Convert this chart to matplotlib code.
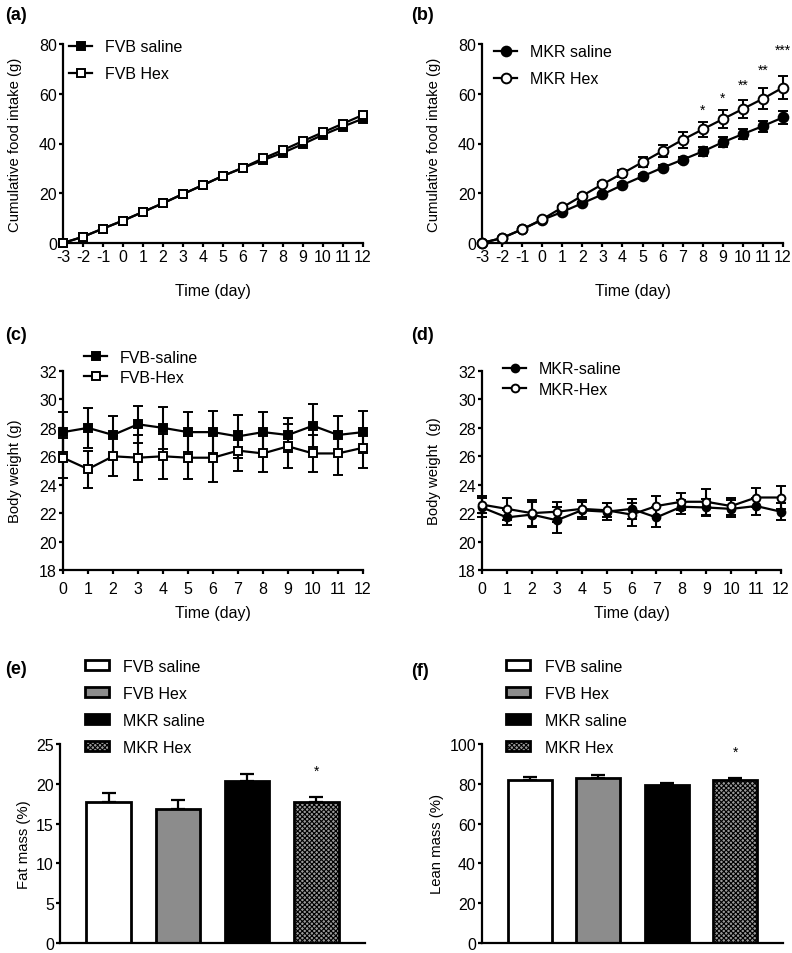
import matplotlib
matplotlib.use("Agg")
import matplotlib.pyplot as plt
import numpy as np

plt.rcParams['font.family'] = ['Liberation Sans', 'DejaVu Sans']
plt.rcParams['hatch.linewidth'] = 0.8
plt.rcParams['axes.unicode_minus'] = False

# ---------------- data ----------------
days_a = [-3, -2, -1, 0, 1, 2, 3, 4, 5, 6, 7, 8, 9, 10, 11, 12]
fvb_saline_food = [0, 2.5, 5.8, 9.0, 12.5, 16.0, 19.7, 23.3, 27.0, 30.2, 33.3, 36.3, 39.8, 43.5, 46.8, 50.0]
fvb_saline_food_err = [0, 0.2, 0.3, 0.3, 0.4, 0.4, 0.5, 0.5, 0.6, 0.6, 0.7, 0.7, 0.8, 0.8, 0.9, 0.9]
fvb_hex_food = [0, 2.5, 5.8, 9.0, 12.5, 16.0, 19.7, 23.3, 27.0, 30.3, 34.0, 37.4, 41.0, 44.5, 48.0, 51.5]
fvb_hex_food_err = [0, 0.2, 0.3, 0.3, 0.4, 0.4, 0.5, 0.5, 0.6, 0.6, 0.7, 0.7, 0.8, 0.8, 0.9, 0.9]

mkr_saline_food = [0, 2.0, 5.5, 9.3, 12.5, 16.0, 19.5, 23.3, 26.8, 30.3, 33.5, 36.8, 40.5, 43.8, 47.0, 50.5]
mkr_saline_food_err = [0, 0.2, 0.3, 0.4, 0.5, 0.6, 0.7, 0.8, 0.9, 1.0, 1.2, 1.8, 2.0, 2.0, 2.2, 2.5]
mkr_hex_food = [0, 2.0, 5.5, 9.5, 14.3, 19.0, 23.6, 28.0, 32.5, 37.0, 41.5, 45.7, 49.8, 53.9, 58.0, 62.5]
mkr_hex_food_err = [0, 0.2, 0.3, 0.4, 0.6, 0.8, 1.0, 1.5, 2.0, 2.5, 3.2, 3.0, 3.5, 3.6, 4.2, 4.8]
sig_days = [8, 9, 10, 11, 12]
sig_labels = ['*', '*', '**', '**', '***']
sig_y = [53.5, 58.5, 63.5, 69.5, 77.5]

days_c = [0, 1, 2, 3, 4, 5, 6, 7, 8, 9, 10, 11, 12]
fvb_saline_bw = [27.7, 28.0, 27.5, 28.25, 28.0, 27.7, 27.7, 27.4, 27.7, 27.5, 28.15, 27.5, 27.7]
fvb_saline_bw_err = [1.4, 1.4, 1.3, 1.3, 1.5, 1.4, 1.5, 1.5, 1.4, 1.2, 1.5, 1.3, 1.5]
fvb_hex_bw = [25.9, 25.1, 26.0, 25.9, 26.0, 25.9, 25.9, 26.4, 26.2, 26.7, 26.2, 26.2, 26.6]
fvb_hex_bw_err = [1.4, 1.3, 1.4, 1.6, 1.6, 1.5, 1.7, 1.4, 1.3, 1.55, 1.3, 1.5, 1.4]

mkr_saline_bw = [22.4, 21.7, 21.9, 21.5, 22.2, 22.1, 22.3, 21.7, 22.45, 22.4, 22.3, 22.5, 22.1]
mkr_saline_bw_err = [0.7, 0.5, 0.9, 0.9, 0.6, 0.6, 0.7, 0.7, 0.5, 0.6, 0.6, 0.6, 0.6]
mkr_hex_bw = [22.6, 22.3, 22.0, 22.1, 22.3, 22.2, 21.9, 22.5, 22.8, 22.8, 22.5, 23.1, 23.1]
mkr_hex_bw_err = [0.6, 0.8, 0.9, 0.7, 0.6, 0.5, 0.8, 0.7, 0.6, 0.9, 0.6, 0.7, 0.8]

groups = ['FVB saline', 'FVB Hex', 'MKR saline', 'MKR Hex']
fat_mass = [17.75, 16.85, 20.35, 17.75]
fat_mass_err = [1.05, 1.1, 0.85, 0.65]
lean_mass = [81.9, 83.0, 79.4, 81.9]
lean_mass_err = [1.4, 1.3, 1.2, 1.0]
bar_sig = ['', '', '', '*']

# ---------------- figure ----------------
W, H = 792, 954
fig = plt.figure(figsize=(W / 100, H / 100), dpi=100)


def axes_px(l, r, t, b):
    return fig.add_axes([l / W, 1 - b / H, (r - l) / W, (b - t) / H])


TICK_FS = 11.5
YLAB_FS = 10.7
XLAB_FS = 11.5
LEG_FS = 11.5


def style(ax, bar=False, xpad=1.0):
    for s in ['top', 'right']:
        ax.spines[s].set_visible(False)
    for s in ['left', 'bottom']:
        ax.spines[s].set_linewidth(1.6)
    ax.tick_params(axis='both', direction='out', width=1.6, length=3.2, labelsize=TICK_FS)
    ax.tick_params(axis='y', pad=1.2)
    ax.tick_params(axis='x', pad=xpad)
    if bar:
        ax.tick_params(axis='x', length=0, labelbottom=False)


def line_series(ax, x, y, e, marker, filled, label, ms):
    ax.errorbar(x, y, yerr=e, color='black', lw=1.6, elinewidth=1.5, capsize=3.5, capthick=1.5,
                marker=marker, ms=ms, mfc='black' if filled else 'white', mec='black', mew=1.4,
                label=label, clip_on=False, zorder=3)


def line_legend(ax, anchor, spacing):
    h, l = ax.get_legend_handles_labels()
    h = [hh[0] for hh in h]
    ax.legend(h, l, loc='upper left', bbox_to_anchor=anchor, frameon=False, fontsize=LEG_FS,
              handlelength=1.4, handletextpad=0.8, labelspacing=spacing, borderaxespad=0)


# (a)
ax = axes_px(63, 363, 45, 244)
line_series(ax, days_a, fvb_saline_food, fvb_saline_food_err, 's', True, 'FVB saline', 6.2)
line_series(ax, days_a, fvb_hex_food, fvb_hex_food_err, 's', False, 'FVB Hex', 6.2)
ax.set_xlim(-3, 12)
ax.set_ylim(0, 80)
ax.set_xticks(days_a)
ax.set_yticks([0, 20, 40, 60, 80])
style(ax)
ax.set_xlabel('Time (day)', fontsize=XLAB_FS, labelpad=14)
ax.set_ylabel('Cumulative food intake (g)', fontsize=YLAB_FS, labelpad=12)
line_legend(ax, (0.0, 1.055), 0.75)
fig.text(5 / W, 1 - 15 / H, '(a)', fontsize=13, fontweight='bold', va='center', ha='left')

# (b)
ax = axes_px(482, 783, 45, 244)
line_series(ax, days_a, mkr_saline_food, mkr_saline_food_err, 'o', True, 'MKR saline', 7)
line_series(ax, days_a, mkr_hex_food, mkr_hex_food_err, 'o', False, 'MKR Hex', 7)
ax.set_xlim(-3, 12)
ax.set_ylim(0, 80)
ax.set_xticks(days_a)
ax.set_yticks([0, 20, 40, 60, 80])
style(ax)
for d, s, yy in zip(sig_days, sig_labels, sig_y):
    ax.text(d, yy, s, ha='center', va='center', fontsize=10, clip_on=False)
ax.set_xlabel('Time (day)', fontsize=XLAB_FS, labelpad=14)
ax.set_ylabel('Cumulative food intake (g)', fontsize=YLAB_FS, labelpad=12)
line_legend(ax, (0.02, 1.03), 0.75)
fig.text(411 / W, 1 - 15 / H, '(b)', fontsize=13, fontweight='bold', va='center', ha='left')

# (c)
ax = axes_px(63, 363, 372, 571)
line_series(ax, days_c, fvb_saline_bw, fvb_saline_bw_err, 's', True, 'FVB-saline', 5.6)
line_series(ax, days_c, fvb_hex_bw, fvb_hex_bw_err, 's', False, 'FVB-Hex', 5.6)
ax.set_xlim(0, 12)
ax.set_ylim(18, 32)
ax.set_xticks(days_c)
ax.set_yticks([18, 20, 22, 24, 26, 28, 30, 32])
style(ax, xpad=5)
ax.set_xlabel('Time (day)', fontsize=XLAB_FS, labelpad=6)
ax.set_ylabel('Body weight (g)', fontsize=YLAB_FS, labelpad=12)
line_legend(ax, (0.05, 1.14), 0.32)
fig.text(5 / W, 1 - 336 / H, '(c)', fontsize=13, fontweight='bold', va='center', ha='left')

# (d)
ax = axes_px(482, 781, 372, 571)
line_series(ax, days_c, mkr_saline_bw, mkr_saline_bw_err, 'o', True, 'MKR-saline', 5.6)
line_series(ax, days_c, mkr_hex_bw, mkr_hex_bw_err, 'o', False, 'MKR-Hex', 5.6)
ax.set_xlim(0, 12)
ax.set_ylim(18, 32)
ax.set_xticks(days_c)
ax.set_yticks([18, 20, 22, 24, 26, 28, 30, 32])
style(ax, xpad=5)
ax.set_xlabel('Time (day)', fontsize=XLAB_FS, labelpad=6)
ax.set_ylabel('Body weight  (g)', fontsize=YLAB_FS, labelpad=12)
line_legend(ax, (0.05, 1.08), 0.32)
fig.text(411 / W, 1 - 336 / H, '(d)', fontsize=13, fontweight='bold', va='center', ha='left')

# bars
bar_face = ['white', '#8c8c8c', 'black', '#9a9a9a']
bar_hatch = [None, None, None, 'xxxxxxx']


def bar_panel(ax, vals, errs, ylim, yticks, ylabel):
    x = np.arange(len(groups))
    for i in range(len(groups)):
        ax.bar(x[i], vals[i], width=0.64, color=bar_face[i], edgecolor='black', linewidth=2.0,
               hatch=bar_hatch[i], label=groups[i], zorder=2)
        ax.errorbar(x[i], vals[i], yerr=[[0], [errs[i]]], color='black', elinewidth=1.6,
                    capsize=5, capthick=1.6, zorder=1)
        if bar_sig[i]:
            ax.text(x[i], vals[i] + errs[i] + (ylim[1] - ylim[0]) * 0.13, bar_sig[i], ha='center',
                    va='center', fontsize=10)
    ax.set_xlim(-0.7, 3.7)
    ax.set_ylim(*ylim)
    ax.set_yticks(yticks)
    style(ax, bar=True)
    ax.set_ylabel(ylabel, fontsize=YLAB_FS, labelpad=4)
    ax.legend(loc='lower left', bbox_to_anchor=(0.06, 0.915), frameon=False, fontsize=LEG_FS,
              handlelength=1.5, handleheight=0.6, handletextpad=0.9, labelspacing=0.75, borderaxespad=0)


ax = axes_px(60, 365, 745, 944)
bar_panel(ax, fat_mass, fat_mass_err, (0, 25), [0, 5, 10, 15, 20, 25], 'Fat mass (%)')
fig.text(5 / W, 1 - 670 / H, '(e)', fontsize=13, fontweight='bold', va='center', ha='left')

ax = axes_px(482, 783, 745, 944)
bar_panel(ax, lean_mass, lean_mass_err, (0, 100), [0, 20, 40, 60, 80, 100], 'Lean mass (%)')
fig.text(411 / W, 1 - 672 / H, '(f)', fontsize=13, fontweight='bold', va='center', ha='left')

fig.savefig('out.png', dpi=100)
